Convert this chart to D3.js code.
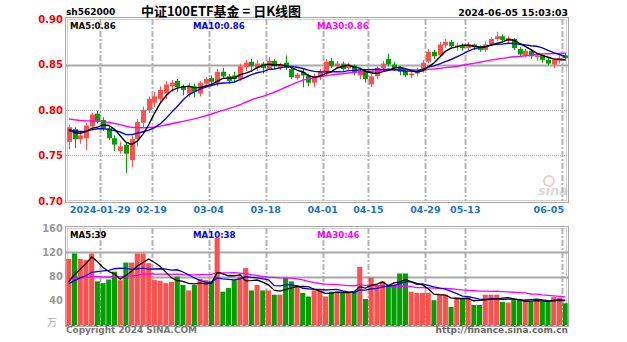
<!DOCTYPE html>
<html><head><meta charset="utf-8">
<script src="https://cdn.jsdelivr.net/npm/d3@7"></script>
<style>body{margin:0;background:#fff}svg{display:block}</style>
</head><body>
<script>
// ---------------- DATA ----------------
const dates = ["2024-01-19","2024-01-22","2024-01-23","2024-01-24","2024-01-25","2024-01-26",
"2024-01-29","2024-01-30","2024-01-31","2024-02-01","2024-02-02","2024-02-05","2024-02-06","2024-02-07","2024-02-08",
"2024-02-19","2024-02-20","2024-02-21","2024-02-22","2024-02-23","2024-02-26","2024-02-27","2024-02-28","2024-02-29","2024-03-01",
"2024-03-04","2024-03-05","2024-03-06","2024-03-07","2024-03-08","2024-03-11","2024-03-12","2024-03-13","2024-03-14","2024-03-15",
"2024-03-18","2024-03-19","2024-03-20","2024-03-21","2024-03-22","2024-03-25","2024-03-26","2024-03-27","2024-03-28","2024-03-29",
"2024-04-01","2024-04-02","2024-04-03","2024-04-08","2024-04-09","2024-04-10","2024-04-11","2024-04-12",
"2024-04-15","2024-04-16","2024-04-17","2024-04-18","2024-04-19","2024-04-22","2024-04-23","2024-04-24","2024-04-25","2024-04-26",
"2024-04-29","2024-04-30","2024-05-06","2024-05-07","2024-05-08","2024-05-09","2024-05-10",
"2024-05-13","2024-05-14","2024-05-15","2024-05-16","2024-05-17","2024-05-20","2024-05-21","2024-05-22","2024-05-23","2024-05-24",
"2024-05-27","2024-05-28","2024-05-29","2024-05-30","2024-05-31","2024-06-03","2024-06-04","2024-06-05"];

const opens = [0.765,0.779,0.768,0.769,0.782,0.796,0.789,0.780,0.769,0.755,0.762,0.745,0.768,0.786,0.800,
0.808,0.812,0.818,0.826,0.832,0.826,0.818,0.826,0.818,0.829,
0.835,0.830,0.842,0.837,0.838,0.834,0.847,0.853,0.846,0.851,
0.845,0.854,0.846,0.852,0.845,0.835,0.842,0.838,0.830,0.837,
0.841,0.854,0.848,0.851,0.846,0.849,0.838,0.842,
0.828,0.837,0.846,0.856,0.850,0.846,0.843,0.838,0.840,0.843,
0.853,0.864,0.860,0.871,0.875,0.869,0.871,
0.868,0.872,0.869,0.866,0.872,0.878,0.881,0.876,0.878,0.867,
0.860,0.865,0.858,0.860,0.855,0.850,0.854,0.860];
const highs = [0.784,0.781,0.777,0.786,0.797,0.799,0.792,0.782,0.772,0.765,0.764,0.772,0.790,0.804,0.815,
0.820,0.826,0.832,0.833,0.834,0.828,0.830,0.829,0.832,0.836,
0.838,0.845,0.846,0.840,0.842,0.851,0.855,0.856,0.855,0.853,
0.858,0.856,0.852,0.860,0.847,0.841,0.845,0.840,0.840,0.845,
0.856,0.857,0.854,0.853,0.852,0.850,0.846,0.844,
0.840,0.848,0.854,0.862,0.853,0.848,0.846,0.843,0.846,0.855,
0.867,0.866,0.875,0.878,0.877,0.874,0.873,
0.875,0.873,0.871,0.875,0.880,0.886,0.883,0.881,0.879,0.869,
0.867,0.866,0.862,0.861,0.857,0.857,0.860,0.863];
const lows = [0.757,0.758,0.763,0.756,0.778,0.785,0.777,0.767,0.755,0.752,0.731,0.737,0.760,0.780,0.797,
0.803,0.808,0.812,0.820,0.820,0.816,0.814,0.814,0.815,0.826,
0.828,0.826,0.834,0.829,0.830,0.832,0.843,0.843,0.843,0.840,
0.844,0.845,0.844,0.844,0.834,0.833,0.825,0.826,0.825,0.833,
0.838,0.846,0.846,0.843,0.844,0.838,0.834,0.830,
0.825,0.834,0.843,0.848,0.843,0.838,0.836,0.835,0.837,0.841,
0.851,0.856,0.858,0.868,0.867,0.865,0.865,
0.866,0.866,0.864,0.864,0.870,0.876,0.874,0.873,0.866,0.858,
0.858,0.856,0.854,0.852,0.849,0.846,0.851,0.854];
const closes = [0.781,0.768,0.772,0.783,0.795,0.788,0.780,0.769,0.762,0.760,0.752,0.768,0.787,0.800,0.812,
0.815,0.822,0.828,0.830,0.825,0.822,0.826,0.820,0.830,0.834,
0.831,0.842,0.837,0.832,0.834,0.848,0.852,0.848,0.851,0.846,
0.854,0.848,0.850,0.846,0.836,0.839,0.838,0.830,0.837,0.842,
0.853,0.848,0.851,0.845,0.850,0.841,0.843,0.834,
0.837,0.846,0.851,0.850,0.846,0.842,0.838,0.840,0.843,0.852,
0.864,0.859,0.872,0.875,0.870,0.871,0.868,
0.872,0.869,0.866,0.872,0.878,0.881,0.877,0.879,0.868,0.861,
0.865,0.859,0.860,0.855,0.851,0.855,0.857,0.857];
// closes of the 29 sessions before the window (needed for the moving averages)
const priorCloses = [0.800,0.797,0.795,0.798,0.796,0.793,0.795,0.797,0.799,0.802,0.805,0.803,0.800,0.801,0.798,
0.795,0.790,0.788,0.785,0.787,0.782,0.780,0.778,0.781,0.776,0.780,0.776,0.774,0.777];

const volumes = [109,118,109,107,118,72,69,75,88,74,103,103,118,118,102,
74,73,69,71,80,66,57,66,76,74,
72,144,55,61,74,80,94,57,66,57,
57,50,50,78,72,66,53,47,57,57,
47,55,55,55,55,55,96,43,
78,66,72,66,66,85,85,55,53,53,
53,41,50,50,30,46,44,
47,33,33,50,50,50,38,37,41,41,
39,39,41,38,38,46,45,36];
const priorVolumes = [85,78,92,80,74,88,76,70,82,79,86,73,77,81,84,75,72,80,78,89,68,64,70,63,60,58,66,61,63];

const tickDates = ["2024-01-29","2024-02-19","2024-03-04","2024-03-18","2024-04-01","2024-04-15","2024-04-29","2024-05-13","2024-06-05"];
const tickLabels = ["2024-01-29","02-19","03-04","03-18","04-01","04-15","04-29","05-13","06-05"];
const priceTicks = [0.90,0.85,0.80,0.75,0.70];
const volumeTicks = [160,120,80,40];
const maPeriods = [5,10,30];
const priceMALabels = ["MA5:0.86","MA10:0.86","MA30:0.86"];
const volumeMALabels = ["MA5:39","MA10:38","MA30:46"];
const titleText = "中证100ETF基金 = 日K线图";
const codeText = "sh562000";
const timeText = "2024-06-05 15:03:03";

// ---------------- DRAW ----------------
const W = 627, H = 342;
const L = 66, R = 568;
const pTop = 19, pBot = 201, vTop = 228, vBot = 325;
const RED = "#ff5050", GREEN = "#00a000";
const maColors = ["#000000","#0000ff","#ff00ff"];
const FONT = "'DejaVu Sans', sans-serif";

const svg = d3.select("body").append("svg").attr("width", W).attr("height", H)
  .style("font-family", FONT);

const x = d3.scaleBand().domain(dates).range([L, R]).padding(0);
const bw = x.bandwidth();
const yP = d3.scaleLinear().domain([0.70, 0.90]).range([pBot, pTop]);
const yV = d3.scaleLinear().domain([0, 160]).range([vBot, vTop]);

function movingAvg(prior, vals, n) {
  const all = prior.concat(vals);
  return vals.map((v, i) => d3.mean(all.slice(prior.length + i - n + 1, prior.length + i + 1)));
}

// --- frames / grids ---
const gridColor = "#a8a8a8";
function frame(y0, y1) {
  svg.append("rect").attr("x", L - 0.5).attr("y", y0 - 1.5).attr("width", R - L + 1).attr("height", y1 - y0 + 3)
    .attr("fill", "none").attr("stroke", gridColor).attr("stroke-width", 1);
  svg.append("rect").attr("x", L + 1.5).attr("y", y0 + 0.5).attr("width", R - L - 3).attr("height", y1 - y0 - 1)
    .attr("fill", "none").attr("stroke", "#cfcfcf").attr("stroke-width", 1);
}
frame(pTop, pBot);
frame(vTop, vBot);

// vertical dashed grid
[[pTop, pBot], [vTop, vBot]].forEach(([a, b]) => {
  svg.append("g").selectAll("line").data(tickDates).join("line")
    .attr("x1", d => Math.round(x(d)) + 0.5).attr("x2", d => Math.round(x(d)) + 0.5)
    .attr("y1", a).attr("y2", b)
    .attr("stroke", "#b4b4b4").attr("stroke-width", 2).attr("stroke-dasharray", "6,2,2,2");
});

// horizontal price grid
svg.append("g").selectAll("line").data([0.85]).join("line")
  .attr("x1", L).attr("x2", R).attr("y1", d => Math.round(yP(d)) + 0.5).attr("y2", d => Math.round(yP(d)) + 0.5)
  .attr("stroke", gridColor).attr("stroke-width", 2);
svg.append("g").selectAll("line").data([0.80, 0.75]).join("line")
  .attr("x1", L).attr("x2", R).attr("y1", d => Math.round(yP(d)) + 0.5).attr("y2", d => Math.round(yP(d)) + 0.5)
  .attr("stroke", "#b0b0b0").attr("stroke-width", 1).attr("stroke-dasharray", "1,1");
// horizontal volume grid
svg.append("g").selectAll("line").data([120, 80]).join("line")
  .attr("x1", L).attr("x2", R).attr("y1", d => Math.round(yV(d)) + 0.5).attr("y2", d => Math.round(yV(d)) + 0.5)
  .attr("stroke", gridColor).attr("stroke-width", 2);

// watermark
const wm = svg.append("g").attr("opacity", 0.55);
wm.append("circle").attr("cx", 549).attr("cy", 181).attr("r", 5).attr("fill", "none").attr("stroke", "#f0a0a0").attr("stroke-width", 2);
wm.append("text").attr("x", 553).attr("y", 195).attr("text-anchor", "middle").attr("font-size", 13)
  .attr("font-weight", "bold").attr("font-style", "italic").attr("fill", "#bbbbbb").text("sina");

// --- candles ---
const cg = svg.append("g");
dates.forEach((d, i) => {
  const up = closes[i] >= opens[i];
  const col = up ? RED : GREEN;
  const cx = Math.round(x(d) + bw / 2) + 0.5;
  cg.append("line").attr("x1", cx).attr("x2", cx).attr("y1", yP(highs[i])).attr("y2", yP(lows[i]))
    .attr("stroke", col).attr("stroke-width", 1);
  const y0 = yP(Math.max(opens[i], closes[i])), y1 = yP(Math.min(opens[i], closes[i]));
  cg.append("rect").attr("x", cx - 2.5).attr("width", 5).attr("y", y0).attr("height", Math.max(1, y1 - y0))
    .attr("fill", col);
});

// --- price MAs ---
const lineP = d3.line().x((v, i) => x(dates[i]) + bw / 2).y(v => yP(v));
maPeriods.slice().reverse().forEach((n, k) => {
  const idx = maPeriods.length - 1 - k;
  svg.append("path").datum(movingAvg(priorCloses, closes, n)).attr("d", lineP)
    .attr("fill", "none").attr("stroke", maColors[idx]).attr("stroke-width", 1.4);
});

// --- volume bars ---
const vg = svg.append("g");
dates.forEach((d, i) => {
  const col = closes[i] >= opens[i] ? RED : GREEN;
  vg.append("rect").attr("x", x(d) + 0.3).attr("width", bw - 0.6)
    .attr("y", yV(volumes[i])).attr("height", yV(0) - yV(volumes[i])).attr("fill", col);
  vg.append("line").attr("x1", x(d)).attr("x2", x(d) + bw).attr("y1", vBot + 0.5).attr("y2", vBot + 0.5)
    .attr("stroke", col).attr("stroke-dasharray", "3,2");
});

// --- volume MAs ---
const lineV = d3.line().x((v, i) => x(dates[i]) + bw / 2).y(v => yV(v));
maPeriods.slice().reverse().forEach((n, k) => {
  const idx = maPeriods.length - 1 - k;
  svg.append("path").datum(movingAvg(priorVolumes, volumes, n)).attr("d", lineV)
    .attr("fill", "none").attr("stroke", maColors[idx]).attr("stroke-width", 1.3);
});

// --- axes ---
const ap = svg.append("g").attr("transform", `translate(${L - 1},0)`)
  .call(d3.axisLeft(yP).tickValues(priceTicks).tickFormat(d3.format(".2f")).tickSize(0).tickPadding(2));
ap.select(".domain").remove();
ap.selectAll("text").attr("fill", "#ff0000").attr("font-size", 10).attr("font-weight", "bold").style("font-family", FONT);

const av = svg.append("g").attr("transform", `translate(${L - 1},0)`)
  .call(d3.axisLeft(yV).tickValues(volumeTicks).tickFormat(d3.format("d")).tickSize(0).tickPadding(2));
av.select(".domain").remove();
av.selectAll("text").attr("fill", "#9a9a9a").attr("font-size", 10).attr("font-weight", "bold").style("font-family", FONT);
svg.append("text").attr("x", 57).attr("y", 326).attr("text-anchor", "end").attr("font-size", 10)
  .attr("fill", "#b0b0b0").style("font-family", "'Noto Sans CJK SC', sans-serif").text("万");

const ax = svg.append("g").attr("transform", `translate(0,${pBot + 2})`)
  .call(d3.axisBottom(x).tickValues(tickDates).tickFormat((d, i) => tickLabels[i]).tickSize(0).tickPadding(3));
ax.select(".domain").remove();
ax.selectAll("text").attr("fill", "#1a73c9").attr("font-size", 9.5).attr("font-weight", "bold")
  .style("font-family", FONT).attr("dx", -bw / 2);
ax.selectAll(".tick").filter((d, i) => i === tickDates.length - 1).select("text")
  .attr("text-anchor", "end").attr("dx", 564 - (x(tickDates[tickDates.length - 1]) + bw / 2));

// --- header texts ---
svg.append("text").attr("x", 66).attr("y", 15).attr("font-size", 9).attr("font-weight", "bold").attr("fill", "#000").text(codeText);
svg.append("text").attr("x", 221).attr("y", 16).attr("text-anchor", "middle").attr("font-size", 13).attr("font-weight", "bold")
  .attr("fill", "#000").style("font-family", "'Noto Sans CJK SC', sans-serif").text(titleText);
svg.append("text").attr("x", 568).attr("y", 16).attr("text-anchor", "end").attr("font-size", 9.4).attr("font-weight", "bold")
  .attr("fill", "#000").text(timeText);

const maX = [70, 193, 317];
priceMALabels.forEach((t, i) => {
  svg.append("text").attr("x", maX[i]).attr("y", 29).attr("font-size", 8.6).attr("font-weight", "bold")
    .attr("fill", maColors[i]).text(t);
});
volumeMALabels.forEach((t, i) => {
  svg.append("text").attr("x", maX[i]).attr("y", 238).attr("font-size", 8.6).attr("font-weight", "bold")
    .attr("fill", maColors[i]).text(t);
});

// footer
svg.append("text").attr("x", 66).attr("y", 333).attr("font-size", 9).attr("font-weight", "bold")
  .attr("fill", "#777").attr("textLength", 131).text("Copyright 2024 SINA.COM");
svg.append("text").attr("x", 568).attr("y", 333).attr("text-anchor", "end").attr("font-size", 9).attr("font-weight", "bold")
  .attr("fill", "#666").text("http://finance.sina.com.cn");
</script>
</body></html>
